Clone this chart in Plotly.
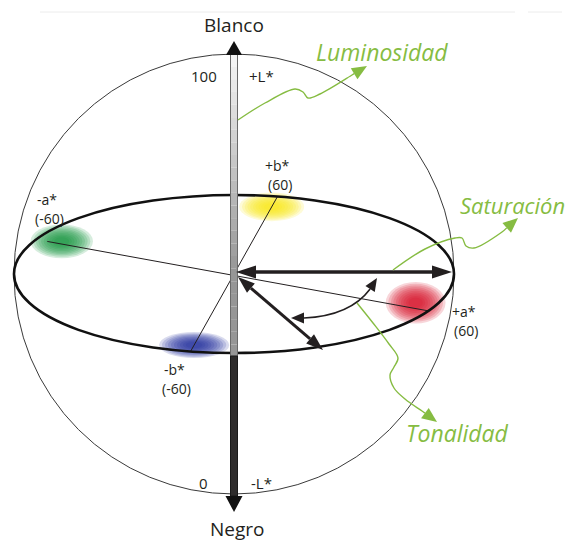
import numpy as np
import plotly.graph_objects as go

# CIELAB values shown on the diagram
L_values = [100, 0]
L_labels = ["+L*", "-L*"]
L_names = ["Blanco", "Negro"]

axis_names = ["+a*", "-a*", "+b*", "-b*"]
axis_a = [60, -60, 0, 0]
axis_b = [0, 0, 60, -60]

blob_names = ["verde", "rojo", "amarillo", "azul"]
blob_a = [-53, 55, 0, 0]
blob_b = [0, 4, 52, -55]
blob_colors = ["#12963a", "#d60a26", "#f7e60f", "#1d2c9c"]

attributes = ["Luminosidad", "Saturación", "Tonalidad"]

GREEN = "#86bc42"
INK = "#231f20"
FONT = "Open Sans"

# page geometry of the sketched sphere
CX, CY, R = 234, 274, 220
EB = 79  # half height of the equator ellipse
PAD = 8  # body margin of the html page


def proj(a, b, L=50):
    x = CX + (a * 195 + b * 43.5) / 60
    y = CY + (a * 37 - b * 77.5) / 60 - (L - 50) * R / 50
    return x, y


def head(tip, frm, length, width):
    tx, ty = tip
    dx, dy = tx - frm[0], ty - frm[1]
    n = np.hypot(dx, dy)
    ux, uy = dx / n, dy / n
    bx, by = tx - ux * length, ty - uy * length
    px, py = -uy * width / 2, ux * width / 2
    path = f"M {tx},{ty} L {bx + px},{by + py} L {bx - px},{by - py} Z"
    return path, (bx, by)


shapes = []
annots = []


def line(p0, p1, w, color=INK):
    shapes.append(dict(type="line", x0=p0[0], y0=p0[1], x1=p1[0], y1=p1[1],
                       line=dict(color=color, width=w), layer="below"))


def tri(path, color=INK):
    shapes.append(dict(type="path", path=path, fillcolor=color,
                       line=dict(width=0), layer="below"))


def double_arrow(t0, t1, w, hl, hw):
    p0, b0 = head(t0, t1, hl, hw)
    p1, b1 = head(t1, t0, hl, hw)
    line(b0, b1, w)
    tri(p0)
    tri(p1)


def text(x, y, s, size, color=INK, anchor="center"):
    annots.append(dict(x=x, y=y, text=s, showarrow=False, xanchor=anchor,
                       yanchor="middle", font=dict(family=FONT, size=size, color=color)))


# faint scan line at the top of the page
line((40, 12), (515, 12), 1, "#ececec")
line((528, 12), (562, 12), 1, "#ececec")

# colour blobs
blob_size = [(48, 26), (46, 32), (50, 22), (54, 20)]
for a, b, c, (w, h) in zip(blob_a, blob_b, blob_colors, blob_size):
    x, y = proj(a, b)
    for k in range(10):
        s = 1.3 - k * 0.11
        shapes.append(dict(type="circle", x0=x - w * s / 2, x1=x + w * s / 2,
                           y0=y - h * s / 2, y1=y + h * s / 2, fillcolor=c,
                           opacity=0.17, line=dict(width=0), layer="below"))

# sphere outline
shapes.append(dict(type="circle", x0=CX - R, x1=CX + R, y0=CY - R, y1=CY + R,
                   line=dict(color="#3a3a3a", width=1), layer="below"))

# a* and b* axes
line(proj(-57, -2), proj(60, 0), 1)
line(proj(0, -60), proj(0, 60), 1)

# equator
shapes.append(dict(type="circle", x0=CX - R, x1=CX + R, y0=CY - EB, y1=CY + EB,
                   line=dict(color="#111111", width=2.6), layer="below"))

# L* axis: light upper bar, dark lower bar
top = proj(0, 0, 100)
bot = proj(0, 0, 0)
bx0, bx1 = CX - 3.5, CX + 3.5
y_split = CY + EB + 4
n = 24
ys = np.linspace(top[1], y_split, n + 1)
for i in range(n):
    g = int(244 - (244 - 150) * min(1, i / (n * 0.7)))
    shapes.append(dict(type="rect", x0=bx0, x1=bx1, y0=ys[i], y1=ys[i + 1],
                       fillcolor=f"rgb({g},{g},{g})", line=dict(width=0), layer="below"))
shapes.append(dict(type="rect", x0=bx0, x1=bx1, y0=top[1], y1=y_split,
                   line=dict(color="#6a6a6a", width=1), layer="below"))
shapes.append(dict(type="rect", x0=bx0, x1=bx1, y0=y_split - 1, y1=bot[1] + 2,
                   fillcolor="#2e2c2c", line=dict(color="#1a1a1a", width=1), layer="below"))
tri(head((CX, top[1] - 13), (CX, top[1] + 10), 14, 16)[0], "#111111")
tri(head((CX, bot[1] + 18), (CX, bot[1]), 16, 17)[0], "#111111")

# chroma and hue arrows
double_arrow((236, 272), (CX + R - 2, 272), 3.5, 20, 13)
double_arrow((238, 277), (323, 350), 3, 17, 12)
p_a, b_a = head((377, 278), (352, 318), 13, 11)
p_b, b_b = head((291, 318), (352, 318), 13, 11)
shapes.append(dict(type="path", layer="below",
                   path=f"M {b_a[0]},{b_a[1]} Q 350,316 {b_b[0]},{b_b[1]}",
                   line=dict(color=INK, width=1.6)))
tri(p_a)
tri(p_b)

# labels
for v, lab, dx_v, dx_l, dy in zip(L_values, L_labels, [-30, -31], [27, 27], [22, -11]):
    x, y = proj(0, 0, v)
    text(x + dx_v, y + dy, str(v), 15)
    text(x + dx_l, y + dy, lab, 15)
text(top[0], top[1] - 29, L_names[0], 19)
text(bot[0] + 3, bot[1] + 35, L_names[1], 19)

label_off = [(35, 0), (8, -38), (0, -31), (-16, 18)]
for name, a, b, (ox, oy) in zip(axis_names, axis_a, axis_b, label_off):
    x, y = proj(a, b)
    v = a if a else b
    text(x + ox, y + oy, name, 14)
    text(x + ox + 2, y + oy + 19, f"({v})", 14)

# green leaders
leaders = [
    [(238, 120), (265, 103), (295, 89), (303, 92), (308, 98), (320, 94), (352, 75)],
    [(393, 270), (425, 249), (455, 238), (462, 238), (466, 246), (474, 248), (502, 232)],
    [(357, 303), (373, 323), (389, 344), (398, 358), (394, 367), (390, 375), (394, 388),
     (405, 399), (422, 411)],
]
tips = [(367, 66), (518, 218), (437, 422)]

fig = go.Figure()
for pts, tip in zip(leaders, tips):
    path, base = head(tip, pts[-1], 15, 13)
    tri(path, GREEN)
    fig.add_trace(go.Scatter(x=[p[0] for p in pts] + [base[0]],
                             y=[p[1] for p in pts] + [base[1]],
                             mode="lines", line=dict(color=GREEN, width=1.4, shape="spline"),
                             hoverinfo="skip", showlegend=False))

attr_pos = [(382, 52), (512, 205), (457, 433)]
attr_size = [23, 22, 23]
for s, (x, y), fs in zip(attributes, attr_pos, attr_size):
    text(x, y, f"<i>{s}</i>", fs, GREEN)

fig.update_layout(
    width=575 - PAD, height=541 - PAD,
    margin=dict(l=0, r=0, t=0, b=0),
    paper_bgcolor="white", plot_bgcolor="white",
    xaxis=dict(range=[PAD, 575], visible=False),
    yaxis=dict(range=[541, PAD], visible=False),
    shapes=shapes, annotations=annots,
)
fig.write_html("out.html")
